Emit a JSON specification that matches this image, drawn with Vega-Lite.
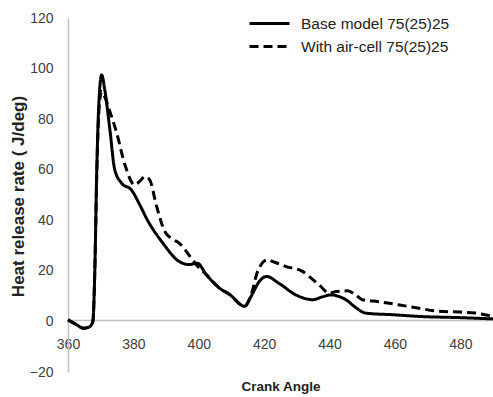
{
  "$schema": "https://vega.github.io/schema/vega-lite/v6.json",
  "width": 425,
  "height": 354,
  "autosize": {"type": "none"},
  "padding": {"left": 68, "top": 18, "right": 0, "bottom": 25},
  "background": "white",
  "config": {
    "view": {"stroke": null},
    "font": "Liberation Sans"
  },
  "datasets": {
    "base": [
      {"angle": 360, "hrr": 0.6}, {"angle": 362.5, "hrr": -1.2}, {"angle": 364.8, "hrr": -2.7}, {"angle": 366.5, "hrr": -2.2},
      {"angle": 367.6, "hrr": 0}, {"angle": 368.2, "hrr": 20}, {"angle": 368.8, "hrr": 60}, {"angle": 369.5, "hrr": 88},
      {"angle": 370.3, "hrr": 97.5}, {"angle": 371.2, "hrr": 92}, {"angle": 372.8, "hrr": 76}, {"angle": 374.3, "hrr": 60},
      {"angle": 376.4, "hrr": 54.7}, {"angle": 379.4, "hrr": 52}, {"angle": 382, "hrr": 46}, {"angle": 384, "hrr": 40.8},
      {"angle": 389, "hrr": 31}, {"angle": 394, "hrr": 23.7}, {"angle": 397, "hrr": 22.5}, {"angle": 399.6, "hrr": 23},
      {"angle": 402.3, "hrr": 18.5}, {"angle": 406.3, "hrr": 13.2}, {"angle": 409.4, "hrr": 10.7}, {"angle": 414, "hrr": 6},
      {"angle": 416, "hrr": 9.9}, {"angle": 418.5, "hrr": 15.8}, {"angle": 420.7, "hrr": 17.8}, {"angle": 424.6, "hrr": 15},
      {"angle": 429.7, "hrr": 10.5}, {"angle": 434.8, "hrr": 8.6}, {"angle": 438, "hrr": 9.8}, {"angle": 440.4, "hrr": 10.5},
      {"angle": 443, "hrr": 9.8}, {"angle": 445, "hrr": 8.6}, {"angle": 448, "hrr": 5.5}, {"angle": 451, "hrr": 3.3},
      {"angle": 460, "hrr": 2.6}, {"angle": 467, "hrr": 2}, {"angle": 480, "hrr": 1.5}, {"angle": 490, "hrr": 1}
    ],
    "air": [
      {"angle": 360, "hrr": 0.6}, {"angle": 362.5, "hrr": -1.2}, {"angle": 364.8, "hrr": -2.7}, {"angle": 366.5, "hrr": -2.2},
      {"angle": 367.6, "hrr": 0}, {"angle": 368.2, "hrr": 20}, {"angle": 368.8, "hrr": 58}, {"angle": 369.5, "hrr": 84},
      {"angle": 370.3, "hrr": 91}, {"angle": 371.5, "hrr": 88}, {"angle": 372.8, "hrr": 83}, {"angle": 374.8, "hrr": 75},
      {"angle": 377.4, "hrr": 62}, {"angle": 380.4, "hrr": 54}, {"angle": 382, "hrr": 55.5}, {"angle": 383.5, "hrr": 57.3},
      {"angle": 385, "hrr": 56}, {"angle": 387, "hrr": 46}, {"angle": 389.6, "hrr": 35.6}, {"angle": 392, "hrr": 32.5},
      {"angle": 394, "hrr": 31}, {"angle": 396, "hrr": 28}, {"angle": 397.7, "hrr": 25}, {"angle": 399.2, "hrr": 22.5},
      {"angle": 402.3, "hrr": 18.5}, {"angle": 406.3, "hrr": 13.2}, {"angle": 409.4, "hrr": 10.7}, {"angle": 414, "hrr": 6},
      {"angle": 416, "hrr": 10.5}, {"angle": 418, "hrr": 19.8}, {"angle": 421, "hrr": 24.4}, {"angle": 423, "hrr": 23.5},
      {"angle": 426.7, "hrr": 21.7}, {"angle": 431.7, "hrr": 19.8}, {"angle": 434, "hrr": 17.5}, {"angle": 436.8, "hrr": 14.5},
      {"angle": 439.9, "hrr": 11.2}, {"angle": 442, "hrr": 11.8}, {"angle": 445.5, "hrr": 12.1}, {"angle": 448, "hrr": 10.5},
      {"angle": 450, "hrr": 8.6}, {"angle": 455, "hrr": 7.8}, {"angle": 461, "hrr": 6.6}, {"angle": 467, "hrr": 5.3},
      {"angle": 473.4, "hrr": 4}, {"angle": 480, "hrr": 3.7}, {"angle": 484.6, "hrr": 3.3}, {"angle": 490, "hrr": 2}
    ]
  },
  "layer": [
    {
      "data": {"name": "base"},
      "transform": [{"calculate": "'Base model 75(25)25'", "as": "series"}],
      "mark": {"type": "line", "interpolate": "monotone", "color": "black", "strokeWidth": 3},
      "encoding": {
        "x": {"field": "angle", "type": "quantitative"},
        "y": {"field": "hrr", "type": "quantitative"},
        "strokeDash": {"field": "series", "type": "nominal"}
      }
    },
    {
      "data": {"name": "air"},
      "transform": [{"calculate": "'With air-cell  75(25)25'", "as": "series"}],
      "mark": {"type": "line", "interpolate": "monotone", "color": "black", "strokeWidth": 3},
      "encoding": {
        "x": {
          "field": "angle", "type": "quantitative",
          "scale": {"domain": [360, 490], "nice": false, "zero": false},
          "axis": {
            "title": "Crank Angle", "values": [360, 380, 400, 420, 440, 460, 480],
            "offset": -52, "ticks": false, "grid": false,
            "domainColor": "#c0c0c0", "domainWidth": 1.5,
            "labelFont": "Liberation Sans", "labelFontSize": 14, "labelColor": "#404040",
            "labelPadding": 17, "labelFlush": false,
            "titleFont": "Liberation Sans", "titleFontSize": 13.5, "titleFontWeight": "bold", "titleColor": "#222222",
            "titleBaseline": "middle", "titleY": 66
          }
        },
        "y": {
          "field": "hrr", "type": "quantitative",
          "scale": {"domain": [-20, 120], "nice": false, "zero": false},
          "axis": {
            "title": "Heat release rate ( J/deg)", "values": [-20, 0, 20, 40, 60, 80, 100, 120],
            "ticks": false, "grid": false,
            "domainColor": "#c0c0c0", "domainWidth": 1.5,
            "labelFont": "Liberation Sans", "labelFontSize": 14, "labelColor": "#404040",
            "labelPadding": 15,
            "titleFont": "Liberation Sans", "titleFontSize": 17, "titleFontWeight": "bold", "titleColor": "#222222",
            "titleAngle": 270, "titleBaseline": "middle", "titleX": -50, "titleY": 178
          }
        },
        "strokeDash": {
          "field": "series", "type": "nominal",
          "scale": {"domain": ["Base model 75(25)25", "With air-cell  75(25)25"], "range": [[1, 0], [9, 5]]},
          "legend": {
            "title": null, "orient": "none", "legendX": 187.5, "legendY": -8.5,
            "symbolType": "M-1.6,0H1.6", "symbolSize": 625, "symbolStrokeWidth": 3, "symbolStrokeColor": "black",
            "labelFont": "Liberation Sans", "labelFontSize": 15.5, "labelColor": "#222222",
            "labelOffset": 17.5, "rowPadding": 0, "labelLimit": 300
          }
        }
      }
    }
  ]
}
